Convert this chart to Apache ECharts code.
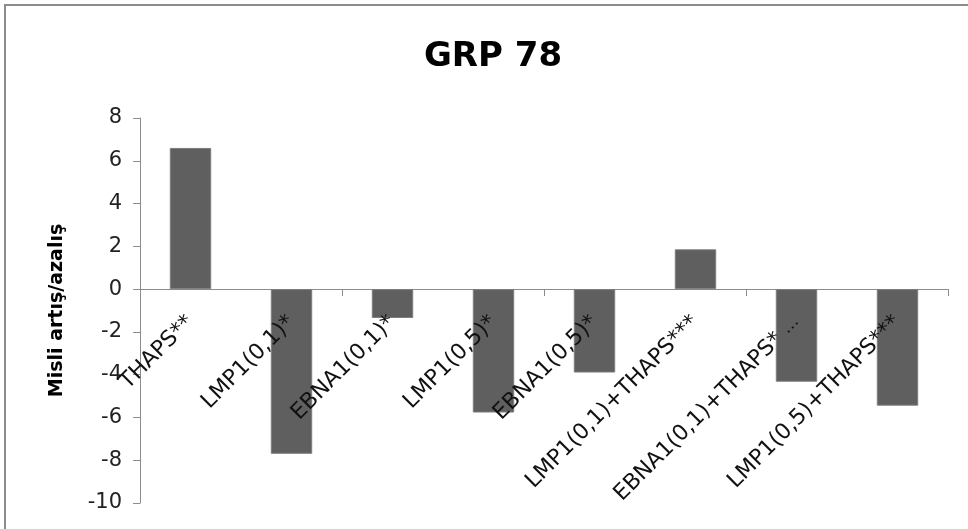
<!DOCTYPE html>
<html>
<head>
<meta charset="utf-8">
<script src="https://cdn.jsdelivr.net/npm/echarts@6/dist/echarts.min.js"></script>
<style>
html,body{margin:0;padding:0;background:#fff;}
#c{width:968px;height:529px;}
</style>
</head>
<body>
<div id="c"></div>
<script>
const categories = ["THAPS**", "LMP1(0,1)*", "EBNA1(0,1)*", "LMP1(0,5)*", "EBNA1(0,5)*", "LMP1(0,1)+THAPS***", "EBNA1(0,1)+THAPS* …", "LMP1(0,5)+THAPS***"];
const values = [6.6, -7.7, -1.35, -5.77, -3.9, 1.86, -4.33, -5.45];
const yTicks = { min: -10, max: 8, interval: 2 };
const titleText = "GRP 78";
const yName = "Misli artış/azalış";

const gridTop = 118, gridBottomPx = 503;
const zeroOffset = (gridBottomPx - gridTop) * (0 - yTicks.min) / (yTicks.max - yTicks.min);
const FONT = 'DejaVu Sans';

const chart = echarts.init(document.getElementById('c'));
chart.setOption({
  animation: false,
  backgroundColor: '#fff',
  textStyle: { fontFamily: FONT },
  graphic: [{
    type: 'rect',
    shape: { x: 5, y: 5, width: 1000, height: 1000 },
    style: { fill: 'none', stroke: '#8c8c8c', lineWidth: 2 },
    silent: true
  }],
  title: {
    text: titleText,
    left: 488, top: 35,
    textAlign: 'center',
    textStyle: { fontFamily: FONT, fontWeight: 'bold', fontSize: 34, color: '#000' }
  },
  grid: { left: 140, right: 20, top: gridTop, bottom: 529 - gridBottomPx, containLabel: false, outerBoundsMode: 'none' },
  xAxis: [{
    type: 'category',
    data: categories,
    axisLine: { onZero: true, lineStyle: { color: '#8c8c8c', width: 1 } },
    axisTick: { show: true, length: 7, lineStyle: { color: '#8c8c8c' } },
    axisLabel: { show: false }
  }, {
    type: 'category',
    data: categories,
    position: 'bottom',
    offset: -zeroOffset,
    z: 10,
    axisLine: { show: false, onZero: false },
    axisTick: { show: false },
    axisLabel: {
      interval: 0, rotate: 45, fontSize: 22, color: '#111', margin: 30, fontFamily: FONT,
      formatter: v => v.replace(' …', ' {e|…}'),
      rich: { e: { fontSize: 17, color: '#111', fontFamily: FONT } }
    }
  }],
  yAxis: {
    type: 'value',
    min: yTicks.min, max: yTicks.max, interval: yTicks.interval,
    name: yName,
    nameLocation: 'middle',
    nameGap: 73,
    nameTextStyle: { fontFamily: FONT, fontWeight: 'bold', fontSize: 19, color: '#000' },
    axisLine: { show: true, lineStyle: { color: '#8c8c8c', width: 1 } },
    axisTick: { show: true, length: 7, lineStyle: { color: '#8c8c8c' } },
    splitLine: { show: false },
    axisLabel: { fontSize: 21, color: '#222', margin: 18, fontFamily: FONT }
  },
  series: [{
    type: 'bar',
    data: values,
    xAxisIndex: 0,
    barWidth: '41%',
    itemStyle: { color: '#5f5f5f', borderColor: '#7d7d7d', borderWidth: 1 }
  }]
});
</script>
</body>
</html>
